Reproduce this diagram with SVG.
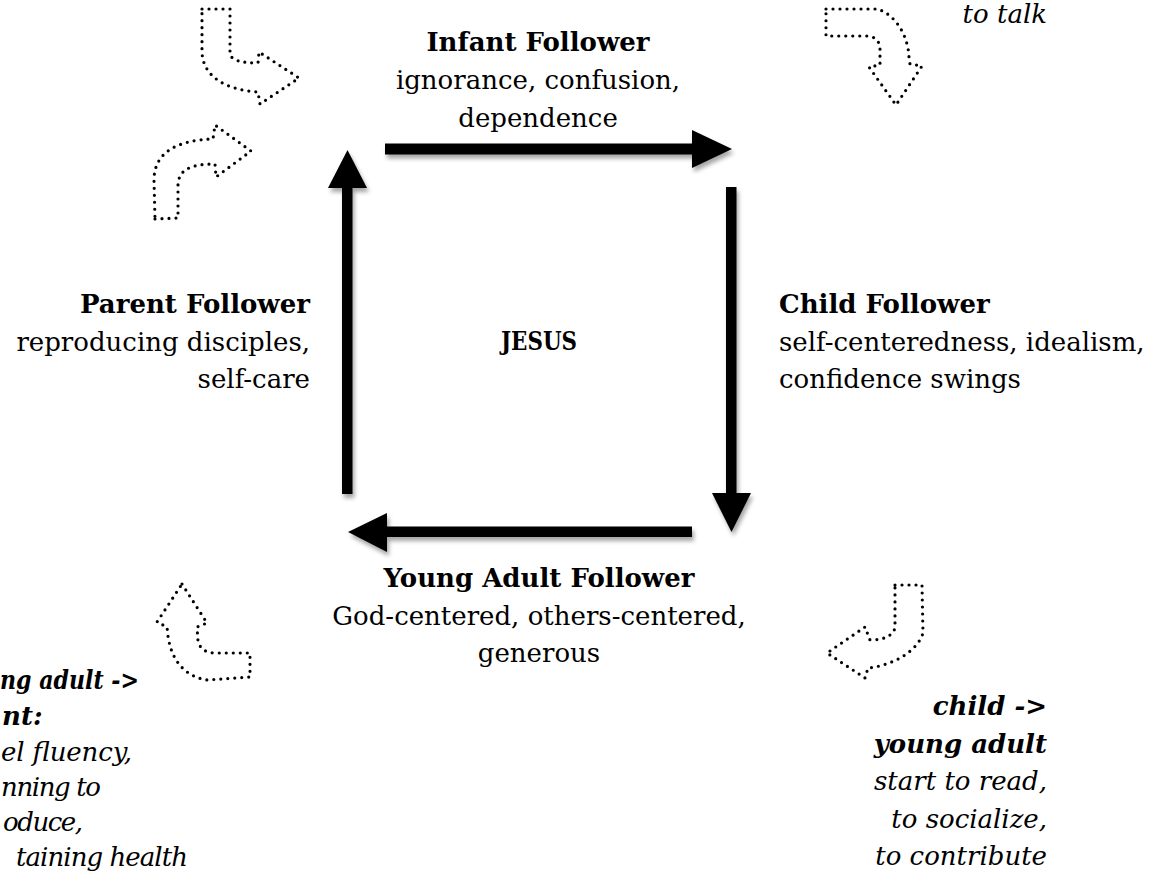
<svg xmlns="http://www.w3.org/2000/svg" width="1167" height="886" viewBox="0 0 1167 886">
<defs>
<style>
text{font-family:"DejaVu Serif","Liberation Serif",serif;font-size:26px;fill:#000}
.b{font-weight:bold}
.i{font-style:italic}
.bi{font-weight:bold;font-style:italic}
.m{text-anchor:middle}
.e{text-anchor:end}
.dot{fill:none;stroke:#000;stroke-width:3.2;stroke-linecap:round;stroke-linejoin:round;stroke-dasharray:0 7}
.arr{fill:#000;filter:url(#sh)}
</style>
<filter id="sh" x="-20%" y="-20%" width="140%" height="140%">
<feDropShadow dx="2" dy="4" stdDeviation="2.2" flood-color="#000" flood-opacity="0.35"/>
</filter>
</defs>
<rect width="1167" height="886" fill="#fff"/>

<g id="connectors">
<g id="arrow-top" class="arr">
<rect x="385" y="143.5" width="308" height="11"/>
<polygon points="692,130 732,149 692,168"/>
</g>
<g id="arrow-right" class="arr">
<rect x="726" y="187" width="10.5" height="307"/>
<polygon points="712,493 751,493 731.5,532"/>
</g>
<g id="arrow-bottom" class="arr">
<rect x="386" y="526.5" width="306" height="10.5"/>
<polygon points="387,513 348,532 387,552"/>
</g>
<g id="arrow-left" class="arr">
<rect x="342" y="187" width="10.5" height="307"/>
<polygon points="328,188 347.5,150 367,188"/>
</g>
<g id="dotted-arrows">
<path class="dot" d="M202,9 L230,9 L230,54 Q232,63 258,63 L259,52 L299,78 L260,104 L258,92 C228,90 203,78 202,52 Z"/>
<path class="dot" d="M155,219 L178,218 L178,186 C178,170 190,164 215,164 L216,177 L251,151 L215,125 L213,139 C178,140 154,152 154,180 Z"/>
<path class="dot" d="M826,9 L877,9 C895,14 908,35 909,57 L910,64 L922,66 L896,105 L869,67 L880,65 L880,48 C879,40 875,37 868,36 L826,36 Z"/>
<path class="dot" d="M182,584 L207,623 L197,627 L198,641 C200,649 206,653 215,653 L250,653 L250,677 L207,680 C188,677 172,664 168,636 L167,627 L157,622 Z"/>
<path class="dot" d="M895,585 L922,585 L923,633 C918,650 895,665 868,668 L865,678 L827,653 L865,627 L870,640 C885,640 893,635 895,628 Z"/>
</g>
</g>

<g id="node-infant">
<text class="b m" x="538" y="51">Infant Follower</text>
<text class="m" x="538" y="89">ignorance, confusion,</text>
<text class="m" x="538" y="127">dependence</text>
</g>
<g id="node-child">
<text class="b" x="779" y="313">Child Follower</text>
<text x="779" y="351">self-centeredness, idealism,</text>
<text x="779" y="388">confidence swings</text>
</g>
<g id="node-young-adult">
<text class="b m" x="539" y="587">Young Adult Follower</text>
<text class="m" x="539" y="625">God-centered, others-centered,</text>
<text class="m" x="539" y="662">generous</text>
</g>
<g id="node-parent">
<text class="b e" x="310" y="313">Parent Follower</text>
<text class="e" x="310" y="351">reproducing disciples,</text>
<text class="e" x="310" y="388">self-care</text>
</g>
<g id="node-jesus">
<text class="b m" x="539" y="350" textLength="76" lengthAdjust="spacingAndGlyphs">JESUS</text>
</g>
<g id="label-top-right">
<text class="i e" x="1047" y="23">to talk</text>
</g>
<g id="label-bottom-right">
<text class="bi e" x="1047" y="715">child -&gt;</text>
<text class="bi e" x="1047" y="753">young adult</text>
<text class="i e" x="1047" y="790">start to read,</text>
<text class="i e" x="1047" y="828">to socialize,</text>
<text class="i e" x="1047" y="865">to contribute</text>
</g>
<g id="label-bottom-left">
<text class="bi" x="0" y="689" textLength="139" lengthAdjust="spacingAndGlyphs">ng adult -&gt;</text>
<text class="bi" x="2" y="725">nt:</text>
<text class="i" x="1" y="761" textLength="131">el fluency,</text>
<text class="i" x="1" y="796" textLength="100">nning to</text>
<text class="i" x="3" y="831" textLength="80">oduce,</text>
<text class="i" x="16" y="866" textLength="172">taining health</text>
</g>
</svg>
